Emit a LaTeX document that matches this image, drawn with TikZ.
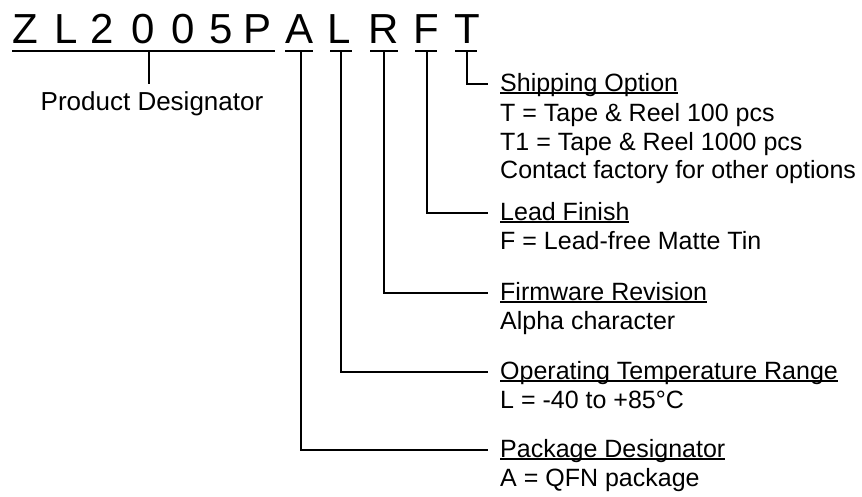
\documentclass[tikz,border=0pt]{standalone}
\usepackage{fontspec}
\setmainfont{Liberation Sans}
\usetikzlibrary{calc}
\newcommand{\undl}[1]{\setbox0\hbox{#1}\rlap{\rule[-2.5pt]{\wd0}{1.3pt}}\box0}
\tikzstyle{pn}=[inner sep=0pt,anchor=base,font=\fontsize{42}{42}\selectfont]
\tikzstyle{hd}=[inner xsep=12pt,inner ysep=0pt,anchor=west,text height=14pt,
  text depth=0pt,font=\fontsize{25}{30}\selectfont]
\tikzstyle{tx}=[inner sep=0pt,anchor=base west,font=\fontsize{25}{30}\selectfont]
\tikzstyle{ln}=[line width=1.5pt]

\begin{document}
\begin{tikzpicture}[x=1pt,y=1pt]
  \useasboundingbox (0,0) rectangle (862,-496);
            \node [style=pn] (0) at (25, -43) {Z};
            \node [style=pn] (1) at (66, -43) {L};
            \node [style=pn] (2) at (102, -43) {2};
            \node [style=pn] (3) at (143, -43) {0};
            \node [style=pn] (4) at (183, -43) {0};
            \node [style=pn] (5) at (221, -43) {5};
            \node [style=pn] (6) at (258, -43) {P};
            \node [style=pn] (7) at (300, -43) {A};
            \node [style=pn] (8) at (339, -43) {L};
            \node [style=pn] (9) at (384, -43) {R};
            \node [style=pn] (10) at (426, -43) {F};
            \node [style=pn] (11) at (467, -43) {T};
            \node [style=tx,anchor=base,inner ysep=7pt,font=\fontsize{26}{30}\selectfont] (12) at (152, -110) {Product Designator};
            \node [style=hd] (13) at (488, -84) {\undl{Shipping Option}};
            \node [style=tx] (14) at (500, -121) {T = Tape \& Reel 100 pcs};
            \node [style=tx] (15) at (500, -150) {T1 = Tape \& Reel 1000 pcs};
            \node [style=tx] (16) at (500, -178) {Contact factory for other options};
            \node [style=hd] (17) at (488, -213) {\undl{Lead Finish}};
            \node [style=tx] (18) at (500, -249) {F = Lead-free Matte Tin};
            \node [style=hd] (19) at (488, -293) {\undl{Firmware Revision}};
            \node [style=tx] (20) at (500, -329) {Alpha character};
            \node [style=hd] (21) at (488, -372) {\undl{Operating Temperature Range}};
            \node [style=tx] (22) at (500, -408) {L = -40 to +85°C};
            \node [style=hd] (23) at (488, -450) {\undl{Package Designator}};
            \node [style=tx] (24) at (500, -486) {A = QFN package};
            \coordinate (30) at (12, -51);
            \coordinate (31) at (275, -51);
            \coordinate (32) at (285, -51);
            \coordinate (33) at (313, -51);
            \coordinate (34) at (330, -51);
            \coordinate (35) at (352, -51);
            \coordinate (36) at (370, -51);
            \coordinate (37) at (398, -51);
            \coordinate (38) at (415, -51);
            \coordinate (39) at (437, -51);
            \coordinate (40) at (455, -51);
            \coordinate (41) at (477, -51);
            \coordinate (42) at (149, -51);
            \coordinate (43) at (301, -51);
            \coordinate (44) at (341, -51);
            \coordinate (45) at (384, -51);
            \coordinate (46) at (427, -51);
            \coordinate (47) at (467, -51);
            \draw [style=ln] (30) to (31);
            \draw [style=ln] (32) to (33);
            \draw [style=ln] (34) to (35);
            \draw [style=ln] (36) to (37);
            \draw [style=ln] (38) to (39);
            \draw [style=ln] (40) to (41);
            \draw [style=ln] (42) -- (42 |- 12.north);
            \draw [style=ln] (47) |- (13.west);
            \draw [style=ln] (46) |- (17.west);
            \draw [style=ln] (45) |- (19.west);
            \draw [style=ln] (44) |- (21.west);
            \draw [style=ln] (43) |- (23.west);
\end{tikzpicture}
\end{document}
